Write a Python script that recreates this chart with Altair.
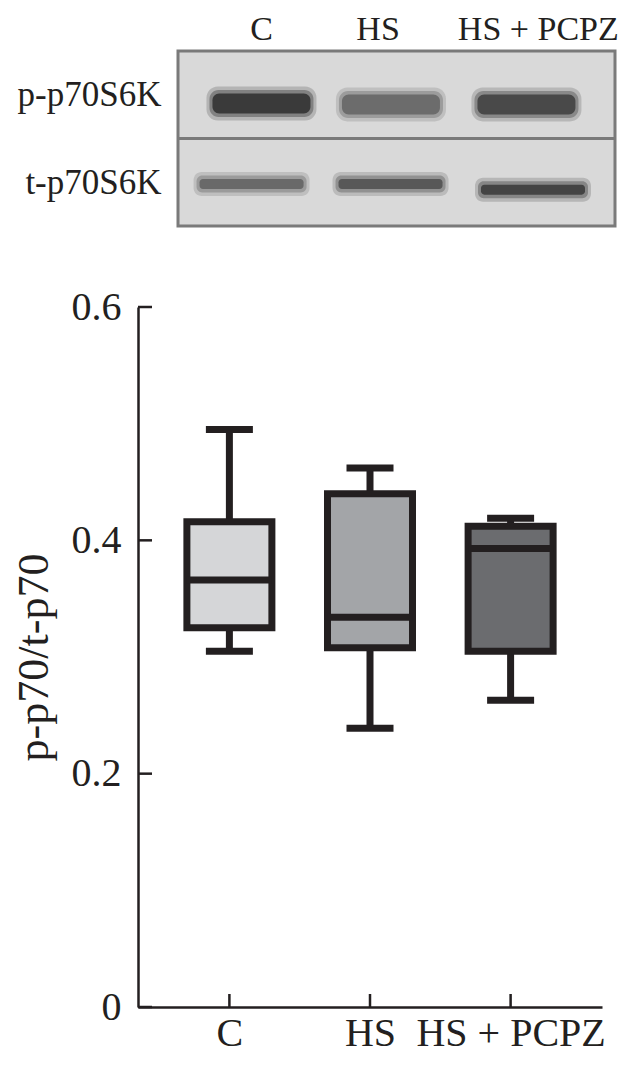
import altair as alt
import pandas as pd

INK = "#231f20"
SERIF = "Liberation Serif"

# ---------------- data ----------------
groups = ["C", "HS", "HS + PCPZ"]
whisker_low = [0.305, 0.239, 0.263]
q1 = [0.325, 0.308, 0.305]
median = [0.366, 0.334, 0.393]
q3 = [0.416, 0.440, 0.412]
whisker_high = [0.495, 0.462, 0.419]
y_ticks = [0, 0.2, 0.4, 0.6]
y_title = "p-p70/t-p70"

# western blot: lane label positions, band positions (lane units / row units), darkness
blot_rows = ["p-p70S6K", "t-p70S6K"]
row_centers = [0.5, 1.5]
lane_label_pos = [0.57, 1.37, 2.47]
p_band_x = [0.573, 1.462, 2.392]
p_band_y = [0.60, 0.61, 0.61]
p_band_dark = [0.92, 0.60, 0.82]
t_band_x = [0.505, 1.459, 2.437]
t_band_y = [1.52, 1.52, 1.585]
t_band_dark = [0.62, 0.72, 0.86]

box_fill = ["#d5d6d8", "#a3a5a8", "#6b6c6f"]

# ---------------- blot panel ----------------
n_lanes, n_rows = len(groups), len(blot_rows)
BW, BH, LEFT = 437, 175, 40


def chain(values, names):
    parts = [f"datum.value < {(a + b) / 2} ? '{n}'" for a, b, n in zip(values[:-1], values[1:], names[:-1])]
    return " : ".join(parts + [f"'{names[-1]}'"])


xs = alt.Scale(domain=[0, n_lanes], range=[LEFT, LEFT + BW], nice=False, zero=False)
ys = alt.Scale(domain=[0, n_rows], range=[0, BH], nice=False, zero=False)
x_ax = alt.Axis(orient="top", values=lane_label_pos, labelExpr=chain(lane_label_pos, groups),
                title=None, ticks=False, domain=False, grid=False, labelAngle=0,
                labelFont=SERIF, labelFontSize=34, labelColor=INK, labelPadding=5,
                labelLimit=0)
y_ax = alt.Axis(values=row_centers, labelExpr=chain(row_centers, blot_rows), title=None,
                ticks=False, domain=False, grid=False, labelFont=SERIF, labelFontSize=35,
                labelColor=INK, labelPadding=17, offset=-LEFT, labelLimit=0)

frame = alt.Chart(pd.DataFrame({"x0": [0], "x1": [n_lanes], "y0": [0], "y1": [n_rows]})).mark_rect(
    fill="#d9d9d9", stroke="#7a7a7a", strokeWidth=3).encode(
    x=alt.X("x0:Q", scale=xs, axis=x_ax), x2="x1:Q",
    y=alt.Y("y0:Q", scale=ys, axis=y_ax), y2="y1:Q")
divider = alt.Chart(pd.DataFrame({"x0": [0], "x1": [n_lanes], "y0": [1]})).mark_rule(
    color="#7a7a7a", strokeWidth=3).encode(
    x=alt.X("x0:Q", scale=xs, axis=x_ax), x2="x1:Q", y=alt.Y("y0:Q", scale=ys, axis=y_ax))

gray = alt.Scale(domain=[0, 1], range=["#d9d9d9", "#161616"])


def bands(xv, yv, dark, size, thick):
    df = pd.DataFrame({"x0": xv, "y0": yv, "dark": dark})
    b = alt.Chart(df).encode(x=alt.X("x0:Q", scale=xs, axis=x_ax),
                             y=alt.Y("y0:Q", scale=ys, axis=y_ax),
                             color=alt.Color("dark:Q", scale=gray, legend=None))
    return [
        b.mark_tick(orient="horizontal", size=size + 12, thickness=thick + 14, opacity=0.2,
                    cornerRadius=(thick + 14) / 3),
        b.mark_tick(orient="horizontal", size=size + 6, thickness=thick + 7, opacity=0.35,
                    cornerRadius=(thick + 7) / 3),
        b.mark_tick(orient="horizontal", size=size, thickness=thick, opacity=0.75,
                    cornerRadius=thick / 3),
    ]


blot = alt.layer(frame, *bands(p_band_x, p_band_y, p_band_dark, 98, 20),
                 *bands(t_band_x, t_band_y, t_band_dark, 104, 10), divider).properties(
    width=LEFT + BW, height=BH)

# ---------------- box plot panel ----------------
W, H = 464, 700
box_df = pd.DataFrame({"group": groups, "lo": whisker_low, "q1": q1, "med": median,
                       "q3": q3, "hi": whisker_high})
yaxis = alt.Axis(values=y_ticks, format="~g", ticks=False, grid=False,
                 domainColor=INK, domainWidth=2.5, labelFont=SERIF, labelFontSize=40,
                 labelColor=INK, labelPadding=17, title=y_title, titleFont=SERIF,
                 titleFontSize=44, titleFontWeight="normal", titleColor=INK, titlePadding=15)
yscale = alt.Scale(domain=[0, 0.6], nice=False, zero=True)
xbox = alt.X("group:N", sort=groups, scale=alt.Scale(type="point", padding=0.65),
             axis=alt.Axis(title=None, labelAngle=0, ticks=False, domainColor=INK,
                           domainWidth=2.5, labelFont=SERIF, labelFontSize=40,
                           labelColor=INK, labelPadding=6, labelLimit=0,
                           labelOverlap=False))

base = alt.Chart(box_df).encode(x=xbox)
whisker = base.mark_rule(color=INK, strokeWidth=7).encode(
    y=alt.Y("lo:Q", scale=yscale, axis=yaxis), y2="hi:Q")
box = base.mark_bar(width=85, stroke=INK, strokeWidth=7).encode(
    y=alt.Y("q1:Q", scale=yscale, axis=yaxis), y2="q3:Q",
    fill=alt.Fill("group:N", scale=alt.Scale(domain=groups, range=box_fill), legend=None))
med = base.mark_tick(size=85, thickness=7, color=INK, opacity=1).encode(
    y=alt.Y("med:Q", scale=yscale, axis=yaxis))
cap_lo = base.mark_tick(size=47, thickness=7, color=INK, opacity=1).encode(
    y=alt.Y("lo:Q", scale=yscale, axis=yaxis))
cap_hi = base.mark_tick(size=47, thickness=7, color=INK, opacity=1).encode(
    y=alt.Y("hi:Q", scale=yscale, axis=yaxis))
ytick_marks = alt.Chart(pd.DataFrame({"v": y_ticks})).mark_rule(
    color=INK, strokeWidth=2.5).encode(
    y=alt.Y("v:Q", scale=yscale, axis=yaxis), x=alt.value(0), x2=alt.value(14))
xtick_marks = base.mark_rule(color=INK, strokeWidth=2.5).encode(
    y=alt.value(H - 13), y2=alt.value(H))

boxplot = alt.layer(whisker, box, med, cap_lo, cap_hi, ytick_marks, xtick_marks).properties(
    width=W, height=H)

chart = alt.vconcat(blot, boxplot, spacing=59).properties(
    padding={"top": 4, "left": 4, "right": 0, "bottom": 1}, background="white"
).configure_view(stroke=None)

chart.save("out.html", embed_options={"renderer": "svg", "actions": False})
